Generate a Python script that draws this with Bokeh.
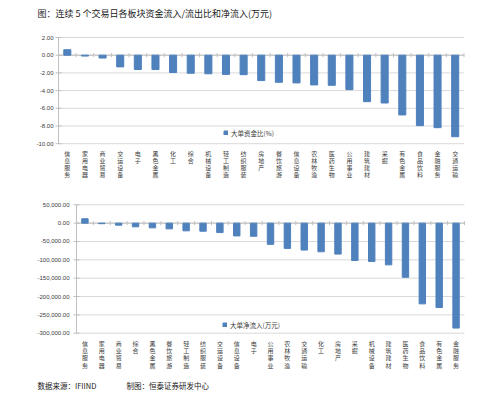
import math
from bokeh.plotting import figure
from bokeh.models import Range1d, Legend, LegendItem
from bokeh.core.properties import value
from bokeh.embed import file_html
from bokeh.resources import INLINE

# ---- data ----
cats1 = ["信息服务", "家用电器", "商业贸易", "交运设备", "电子", "黑色金属", "化工", "综合",
         "机械设备", "轻工制造", "纺织服装", "房地产", "餐饮旅游", "信息设备", "农林牧渔",
         "医药生物", "公用事业", "建筑建材", "采掘", "有色金属", "食品饮料", "金融服务", "交通运输"]
vals1 = [0.62, -0.10, -0.32, -1.32, -1.62, -1.62, -1.96, -2.04, -2.10, -2.17, -2.20, -2.87,
         -3.06, -3.13, -3.36, -3.40, -3.89, -5.25, -5.40, -6.75, -7.96, -8.19, -9.21]
series1 = "大单资金比(%)"
yticks1 = [-10, -8, -6, -4, -2, 0, 2]
ylabels1 = ["-10.00", "-8.00", "-6.00", "-4.00", "-2.00", "0.00", "2.00"]

cats2 = ["信息服务", "家用电器", "商业贸易", "综合", "黑色金属", "餐饮旅游", "轻工制造", "纺织服装",
         "交运设备", "信息设备", "电子", "公用事业", "农林牧渔", "交通运输", "化工", "房地产",
         "采掘", "机械设备", "建筑建材", "医药生物", "食品饮料", "有色金属", "金融服务"]
vals2 = [12000, -1500, -5500, -10000, -12800, -15600, -21000, -22000, -25700, -34800, -35800,
         -57800, -68800, -73400, -78000, -84400, -101800, -104500, -113700, -147600, -220000,
         -230000, -286000]
series2 = "大单净流入(万元)"
yticks2 = [-300000, -250000, -200000, -150000, -100000, -50000, 0, 50000]
ylabels2 = ["-300,000.00", "-250,000.00", "-200,000.00", "-150,000.00", "-100,000.00",
            "-50,000.00", "0.00", "50,000.00"]

title_text = "图：连续 5 个交易日各板块资金流入/流出比和净流入(万元)"
source_texts = ["数据来源：IFIIND", "制图：恒泰证券研发中心"]

# ---- style / layout ----
BAR = "#4f81bd"
GRID = "#d9d9d9"
AXIS = "#bfbfbf"
TXT = "#3a3a3a"
CJK = "Noto Sans CJK SC"
LAT = "Liberation Sans"
W, H = 496, 395
OFF = 0  # page origin offset of the canvas


def fx(X):
    return X - OFF


def fy(Y):
    return H - (Y - OFF)


def px_range(lo, hi, p0, p1, total):
    per = (hi - lo) / (p1 - p0)
    return Range1d(lo - p0 * per, hi + (total - p1) * per)


p = figure(width=W, height=H, x_range=Range1d(0, W), y_range=Range1d(0, H),
           x_axis_type=None, y_axis_type=None, min_border=0,
           min_border_left=0, min_border_right=0, min_border_top=0, min_border_bottom=0,
           output_backend="svg", toolbar_location=None)
p.outline_line_color = None
p.background_fill_color = "white"
p.border_fill_color = "white"

xr, yr = {}, {}


def draw_chart(name, cats, vals, yticks, ylabels, box, bar_w, tick_off,
               lab_y0, pitch, lab_size, series, leg_loc, leg_pad, leg_bg):
    X0, X1, Y0, Y1 = box
    n = len(cats)
    xs = list(range(n))
    xr[name] = px_range(-0.5, n - 0.5, fx(X0), fx(X1), W)
    yr[name] = px_range(yticks[0], yticks[-1], fy(Y1), fy(Y0), H)
    p.extra_x_ranges = dict(xr)
    p.extra_y_ranges = dict(yr)
    kw = dict(x_range_name=name, y_range_name=name)
    # gridlines
    p.segment(x0=-0.5, x1=n - 0.5, y0=yticks, y1=yticks, line_color=GRID, line_width=1, **kw)
    # value axis line, ticks, labels
    p.segment(x0=-0.5, x1=-0.5, y0=yticks[0], y1=yticks[-1], line_color=AXIS, line_width=1, **kw)
    p.scatter(x=-0.5, y=yticks, marker="dash", size=6, line_color=AXIS, **kw)
    p.text(x=-0.5, y=yticks, text=ylabels, x_offset=tick_off, text_align="right",
           text_baseline="middle", text_font=value(LAT), text_font_size="6px",
           text_color=TXT, **kw)
    # zero line with category ticks
    p.segment(x0=-0.5, x1=n - 0.5, y0=0, y1=0, line_color=AXIS, line_width=1, **kw)
    p.scatter(x=[i - 0.5 for i in range(n + 1)], y=0, marker="dash", angle=math.pi / 2,
              size=4, line_color=AXIS, **kw)
    # bars
    r = p.vbar(x=xs, top=vals, bottom=0, width=bar_w, fill_color=BAR, line_color=BAR, **kw)
    # vertical category labels (one character per row)
    for k in range(max(len(c) for c in cats)):
        xk = [i for i, c in enumerate(cats) if len(c) > k]
        tk = [c[k] for c in cats if len(c) > k]
        p.text(x=xk, y=fy(lab_y0 + k * pitch), text=tk, x_range_name=name,
               text_align="center", text_baseline="middle", text_font=value(CJK),
               text_font_size=lab_size, text_color=TXT)
    leg = Legend(items=[LegendItem(label=series, renderers=[r])], location=leg_loc,
                 orientation="horizontal", padding=leg_pad, margin=0, spacing=0,
                 glyph_width=5, glyph_height=5, label_standoff=3,
                 label_text_font=CJK, label_text_font_size="6.5px",
                 label_text_color=TXT, label_height=8,
                 background_fill_color="white", background_fill_alpha=leg_bg,
                 border_line_color=None)
    p.add_layout(leg)


draw_chart("c1", cats1, vals1, yticks1, ylabels1, (58, 463.5, 37, 143.2), 0.4, -5,
           153, 6.9, "6px", series1, (fx(223), fy(137.5)), 2, 0)
draw_chart("c2", cats2, vals2, yticks2, ylabels2, (76, 464, 204.3, 332.7), 0.38, -7,
           343, 7.2, "6px", series2, (fx(222), fy(329.5)), 5, 1)

# title and source
p.text(x=fx(37), y=fy(12.5), text=[title_text], text_align="left", text_baseline="middle",
       text_font=value(CJK), text_font_size="9px", text_color="#1a1a1a")
p.text(x=[fx(37), fx(126)], y=fy(385), text=source_texts, text_align="left",
       text_baseline="middle", text_font=value(CJK), text_font_size="7.5px",
       text_color="#1a1a1a")

open("out.html", "w").write(file_html(p, INLINE))
